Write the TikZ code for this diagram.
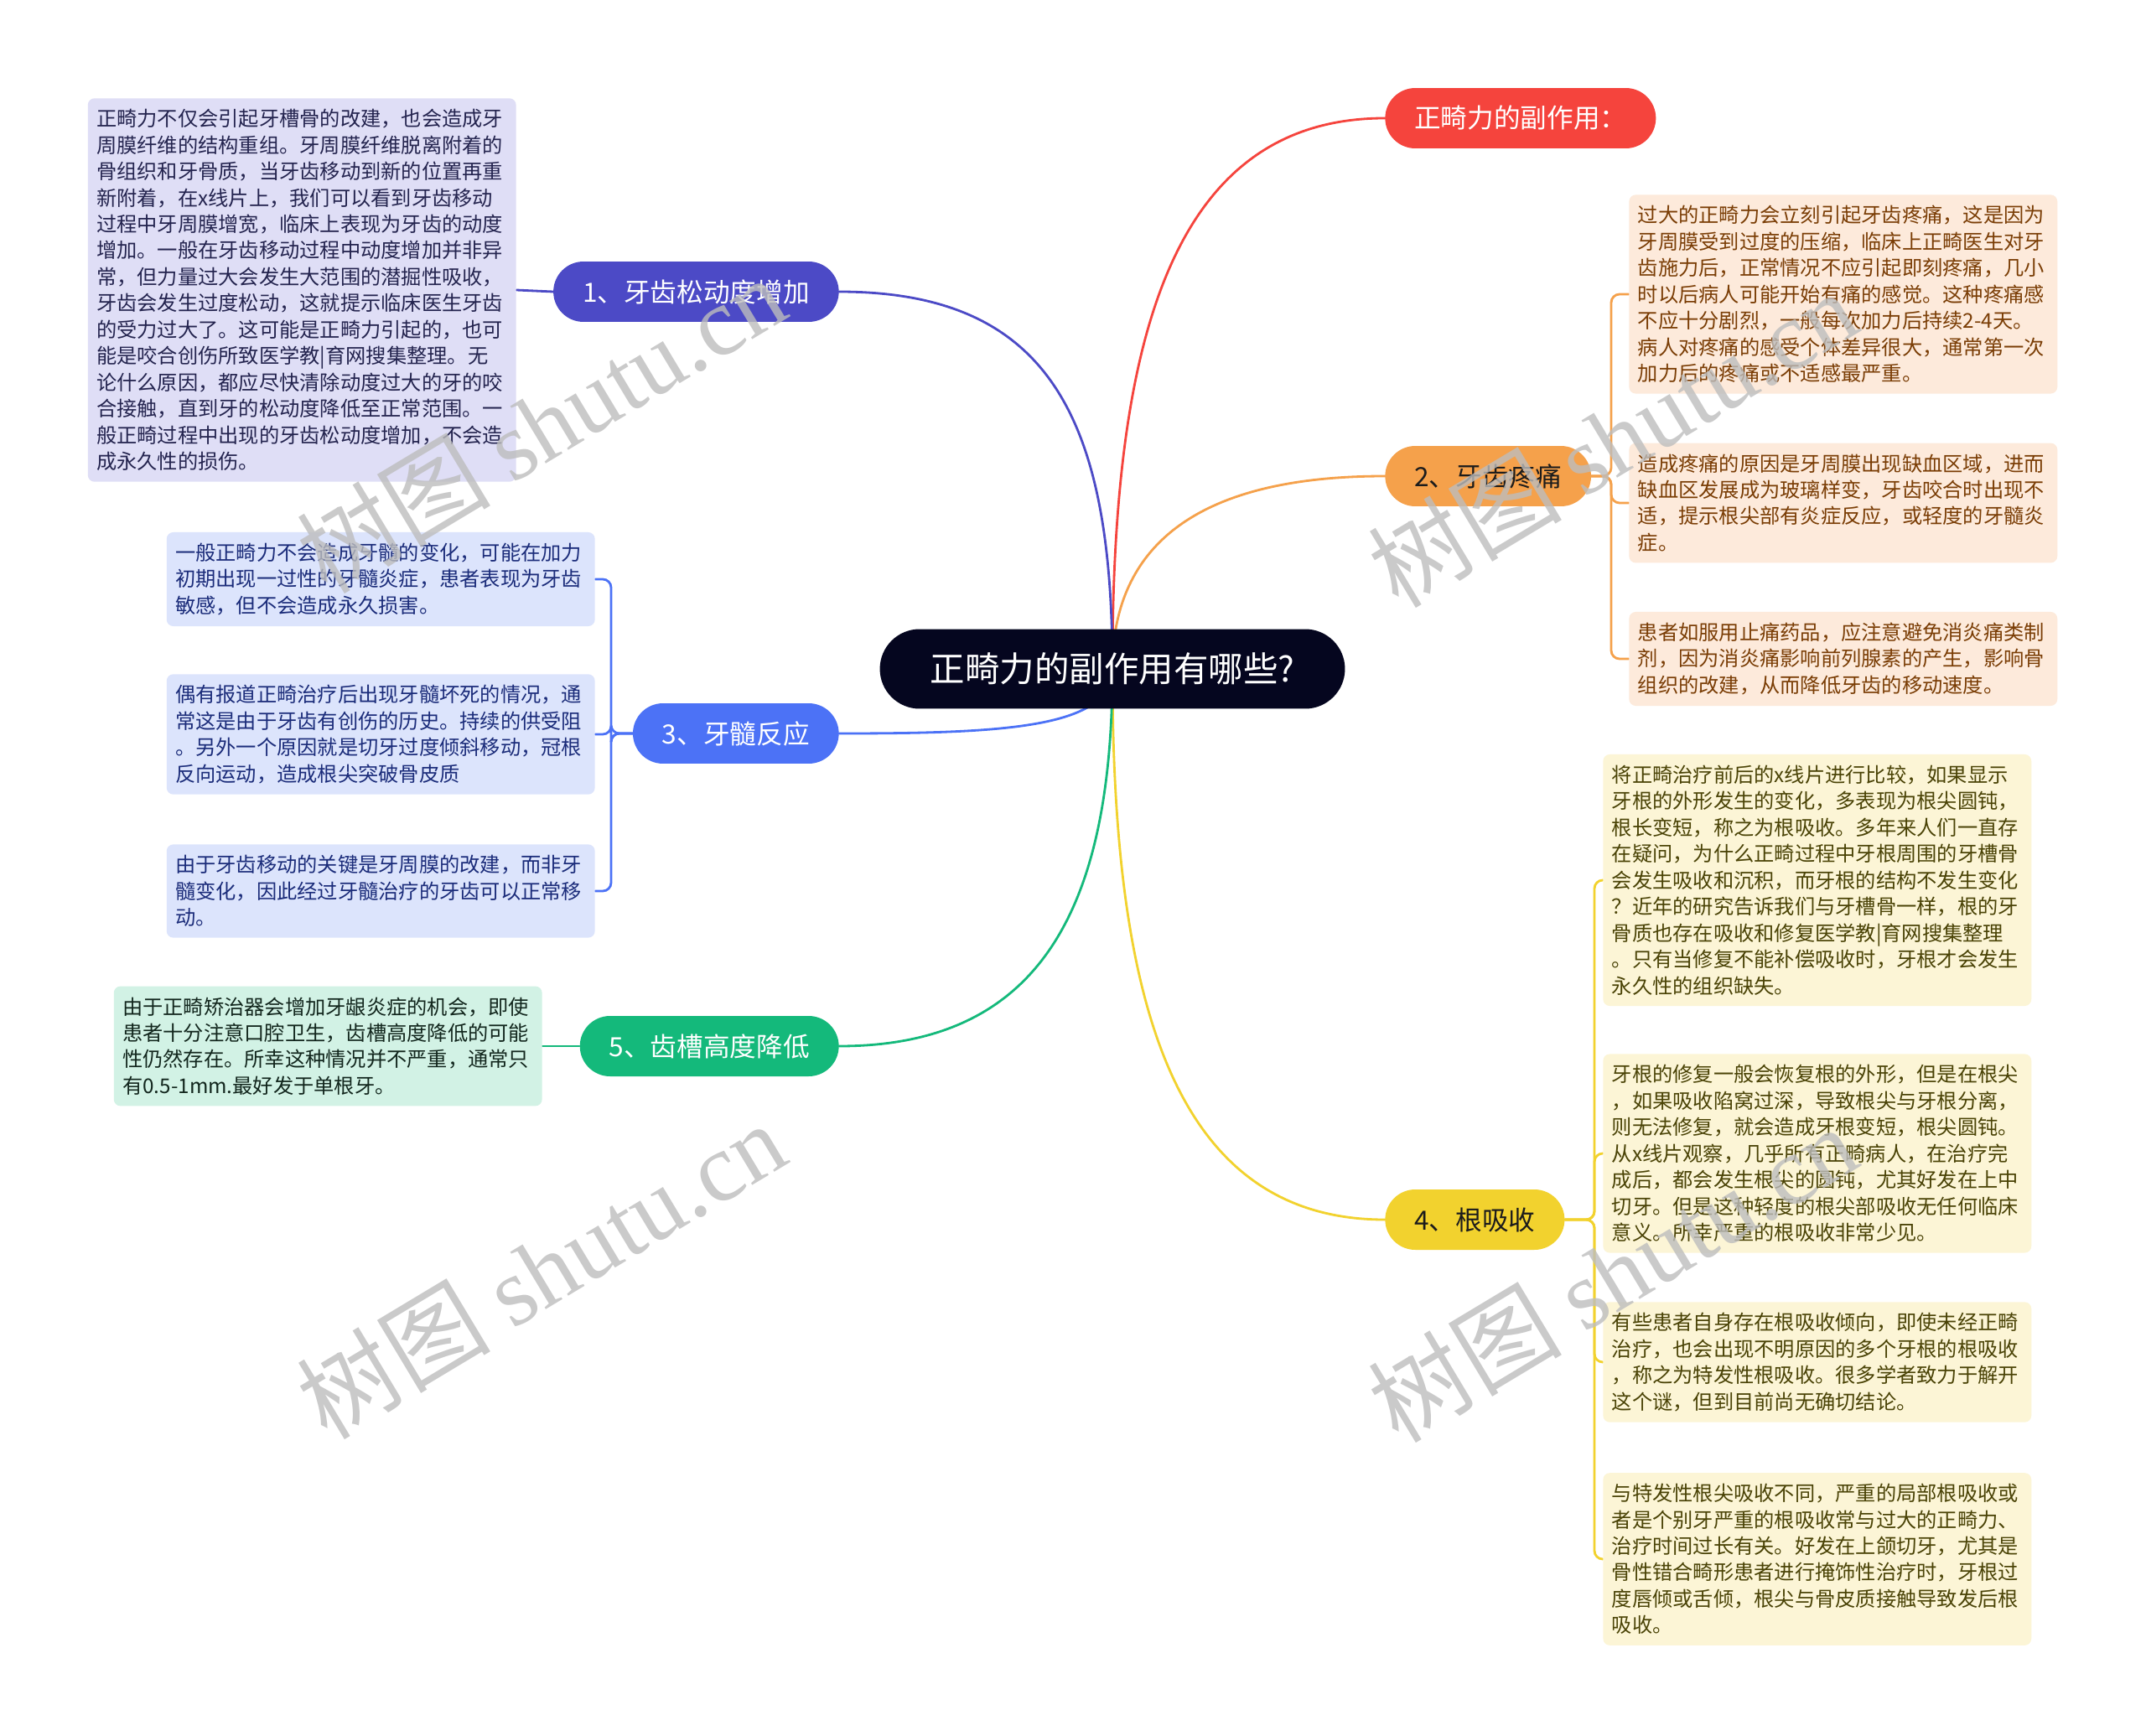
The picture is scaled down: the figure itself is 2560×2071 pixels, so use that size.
\documentclass[tikz,border=0pt]{standalone}
\usepackage{fontspec}
\setmainfont{Noto Sans CJK SC}
\newfontfamily\mmserif{Liberation Serif}
\usetikzlibrary{backgrounds}
\definecolor{mmink}{HTML}{05061F}
\definecolor{mmdark}{HTML}{1C1C1C}
\definecolor{mmred}{HTML}{F5443D}
\definecolor{mmorange}{HTML}{F5A14B}
\definecolor{mmyellow}{HTML}{F2D22E}
\definecolor{mmindigo}{HTML}{4C4AC6}
\definecolor{mmblue}{HTML}{4C72F6}
\definecolor{mmgreen}{HTML}{14B97B}
\definecolor{mmindigofill}{HTML}{DFDEF6}
\definecolor{mmbluefill}{HTML}{DCE4FC}
\definecolor{mmgreenfill}{HTML}{D2F2E5}
\definecolor{mmorangefill}{HTML}{FDEADB}
\definecolor{mmyellowfill}{HTML}{FCF5D6}
\definecolor{mmindigotext}{HTML}{24244F}
\definecolor{mmbluetext}{HTML}{1B2C7A}
\definecolor{mmgreentext}{HTML}{12261D}
\definecolor{mmorangetext}{HTML}{7A3D05}
\definecolor{mmyellowtext}{HTML}{4A4306}
\definecolor{mmwm}{HTML}{BDBDBD}
\tikzset{
  mmleaf/.style={
    rectangle, rounded corners=0.16cm, align=left, text width=9.8cm,
    inner xsep=0.21cm, inner ysep=0.26cm,
    font=\fontsize{13.8pt}{17.9pt}\selectfont},
  mmpill/.style={
    rectangle, rounded corners=0.72cm, minimum height=1.44cm,
    inner xsep=0.7cm, inner ysep=0pt,
    font=\fontsize{18pt}{20pt}\selectfont},
  mmroot/.style={
    rectangle, rounded corners=0.95cm, minimum height=1.9cm,
    minimum width=11.1cm, fill=mmink, text=white,
    font=\fontsize{23.6pt}{26pt}\selectfont},
  mmlink/.style={line width=1.6pt, line cap=round},
  mmbrace/.style={mmlink, rounded corners=0.2cm},
  mmwmark/.style={text=mmwm, opacity=0.8, rotate=31,
    font=\fontsize{66pt}{70pt}\selectfont},
}

\begin{document}
\begin{tikzpicture}[x=0.02cm, y=-0.02cm,
  loosebox/.style={mmleaf, fill=mmindigofill, text=mmindigotext},
  pulpbox/.style={mmleaf, fill=mmbluefill, text=mmbluetext},
  alvbox/.style={mmleaf, fill=mmgreenfill, text=mmgreentext},
  painbox/.style={mmleaf, fill=mmorangefill, text=mmorangetext},
  resorbbox/.style={mmleaf, fill=mmyellowfill, text=mmyellowtext}]

\useasboundingbox (0,0) rectangle (2560,2071);

% Root.
\node[mmroot] (root) at (1327,798) {正畸力的副作用有哪些?};

% Branches.
\node[mmpill, fill=mmred, text=white, anchor=west] (sidefx) at (1652,141)
  {正畸力的副作用：};
\node[mmpill, fill=mmorange, text=mmdark, anchor=west] (pain) at (1652,568)
  {2、牙齿疼痛};
\node[mmpill, fill=mmyellow, text=mmdark, anchor=west] (resorb) at (1652,1455)
  {4、根吸收};
\node[mmpill, fill=mmindigo, text=white, anchor=east] (loose) at (1001,348)
  {1、牙齿松动度增加};
\node[mmpill, fill=mmblue, text=white, anchor=east] (pulp) at (1001,875)
  {3、牙髓反应};
\node[mmpill, fill=mmgreen, text=white, anchor=east] (alv) at (1001,1248)
  {5、齿槽高度降低};

% ------------------------------------------------------------ left leaves
\node[loosebox, anchor=east] (loose1) at (616,346)
  {正畸力不仅会引起牙槽骨的改建，也会造成牙\\
   周膜纤维的结构重组。牙周膜纤维脱离附着的\\
   骨组织和牙骨质，当牙齿移动到新的位置再重\\
   新附着，在x线片上，我们可以看到牙齿移动\\
   过程中牙周膜增宽，临床上表现为牙齿的动度\\
   增加。一般在牙齿移动过程中动度增加并非异\\
   常，但力量过大会发生大范围的潜掘性吸收，\\
   牙齿会发生过度松动，这就提示临床医生牙齿\\
   的受力过大了。这可能是正畸力引起的，也可\\
   能是咬合创伤所致医学教|育网搜集整理。无\\
   论什么原因，都应尽快清除动度过大的牙的咬\\
   合接触，直到牙的松动度降低至正常范围。一\\
   般正畸过程中出现的牙齿松动度增加，不会造\\
   成永久性的损伤。};
\node[pulpbox, anchor=east] (pulp1) at (710,691)
  {一般正畸力不会造成牙髓的变化，可能在加力\\
   初期出现一过性的牙髓炎症，患者表现为牙齿\\
   敏感，但不会造成永久损害。};
\node[pulpbox, anchor=east] (pulp2) at (710,876)
  {偶有报道正畸治疗后出现牙髓坏死的情况，通\\
   常这是由于牙齿有创伤的历史。持续的供受阻\\
   。另外一个原因就是切牙过度倾斜移动，冠根\\
   反向运动，造成根尖突破骨皮质};
\node[pulpbox, anchor=east] (pulp3) at (710,1063)
  {由于牙齿移动的关键是牙周膜的改建，而非牙\\
   髓变化，因此经过牙髓治疗的牙齿可以正常移\\
   动。};
\node[alvbox, anchor=east] (alv1) at (647,1248)
  {由于正畸矫治器会增加牙龈炎症的机会，即使\\
   患者十分注意口腔卫生，齿槽高度降低的可能\\
   性仍然存在。所幸这种情况并不严重，通常只\\
   有0.5-1mm.最好发于单根牙。};

% ----------------------------------------------------------- right leaves
\node[painbox, anchor=west] (pain1) at (1943,351)
  {过大的正畸力会立刻引起牙齿疼痛，这是因为\\
   牙周膜受到过度的压缩，临床上正畸医生对牙\\
   齿施力后，正常情况不应引起即刻疼痛，几小\\
   时以后病人可能开始有痛的感觉。这种疼痛感\\
   不应十分剧烈，一般每次加力后持续2-4天。\\
   病人对疼痛的感受个体差异很大，通常第一次\\
   加力后的疼痛或不适感最严重。};
\node[painbox, anchor=west] (pain2) at (1943,600)
  {造成疼痛的原因是牙周膜出现缺血区域，进而\\
   缺血区发展成为玻璃样变，牙齿咬合时出现不\\
   适，提示根尖部有炎症反应，或轻度的牙髓炎\\
   症。};
\node[painbox, anchor=west] (pain3) at (1943,786)
  {患者如服用止痛药品，应注意避免消炎痛类制\\
   剂，因为消炎痛影响前列腺素的产生，影响骨\\
   组织的改建，从而降低牙齿的移动速度。};
\node[resorbbox, anchor=west] (resorb1) at (1912,1050)
  {将正畸治疗前后的x线片进行比较，如果显示\\
   牙根的外形发生的变化，多表现为根尖圆钝，\\
   根长变短，称之为根吸收。多年来人们一直存\\
   在疑问，为什么正畸过程中牙根周围的牙槽骨\\
   会发生吸收和沉积，而牙根的结构不发生变化\\
   ？近年的研究告诉我们与牙槽骨一样，根的牙\\
   骨质也存在吸收和修复医学教|育网搜集整理\\
   。只有当修复不能补偿吸收时，牙根才会发生\\
   永久性的组织缺失。};
\node[resorbbox, anchor=west] (resorb2) at (1912,1376)
  {牙根的修复一般会恢复根的外形，但是在根尖\\
   ，如果吸收陷窝过深，导致根尖与牙根分离，\\
   则无法修复，就会造成牙根变短，根尖圆钝。\\
   从x线片观察，几乎所有正畸病人，在治疗完\\
   成后，都会发生根尖的圆钝，尤其好发在上中\\
   切牙。但是这种轻度的根尖部吸收无任何临床\\
   意义。所幸严重的根吸收非常少见。};
\node[resorbbox, anchor=west] (resorb3) at (1912,1625)
  {有些患者自身存在根吸收倾向，即使未经正畸\\
   治疗，也会出现不明原因的多个牙根的根吸收\\
   ，称之为特发性根吸收。很多学者致力于解开\\
   这个谜，但到目前尚无确切结论。};
\node[resorbbox, anchor=west] (resorb4) at (1912,1860)
  {与特发性根尖吸收不同，严重的局部根吸收或\\
   者是个别牙严重的根吸收常与过大的正畸力、\\
   治疗时间过长有关。好发在上颌切牙，尤其是\\
   骨性错合畸形患者进行掩饰性治疗时，牙根过\\
   度唇倾或舌倾，根尖与骨皮质接触导致发后根\\
   吸收。};

% Forks of the leaf braces.
\coordinate (pulpfork) at (729,875);
\coordinate (painfork) at (1922,568);
\coordinate (resorbfork) at (1902,1455);

% --------------------------------------------------------------- links
\begin{scope}[on background layer]
\fill[white] (0,0) rectangle (2560,2071);
\draw[mmlink, mmred] (root.center) .. controls +(0,-380) and +(-260,0)
  .. (sidefx.west);
\draw[mmlink, mmorange] (root.center) .. controls +(0,-150) and +(-220,0)
  .. (pain.west);
\draw[mmlink, mmyellow] (root.center) .. controls +(0,380) and +(-260,0)
  .. (resorb.west);
\draw[mmlink, mmindigo] (root.center) .. controls +(0,-300) and +(250,0)
  .. (loose.east);
\draw[mmlink, mmblue] (root.center) .. controls +(0,70) and +(200,0)
  .. (pulp.east);
\draw[mmlink, mmgreen] (root.center) .. controls +(0,300) and +(230,0)
  .. (alv.east);

\draw[mmlink, mmindigo] (loose.west) -- (loose1.east);
\draw[mmlink, mmgreen] (alv.west) -- (alv1.east);
\foreach \k in {1,2,3} {
  \draw[mmbrace, mmblue] (pulp.west) -- (pulpfork) |- (pulp\k.east);
  \draw[mmbrace, mmorange] (pain.east) -- (painfork) |- (pain\k.west);
}
\foreach \k in {1,...,4} {
  \draw[mmbrace, mmyellow] (resorb.east) -- (resorbfork) |- (resorb\k.west);
}
\end{scope}

% Watermarks.
\node[mmwmark] (wm1) at (645,506) {树图 {\mmserif shutu.cn}};
\node[mmwmark] (wm2) at (645,1515) {树图 {\mmserif shutu.cn}};
\node[mmwmark] (wm3) at (1923,523) {树图 {\mmserif shutu.cn}};
\node[mmwmark] (wm4) at (1923,1519) {树图 {\mmserif shutu.cn}};

\end{tikzpicture}
\end{document}
